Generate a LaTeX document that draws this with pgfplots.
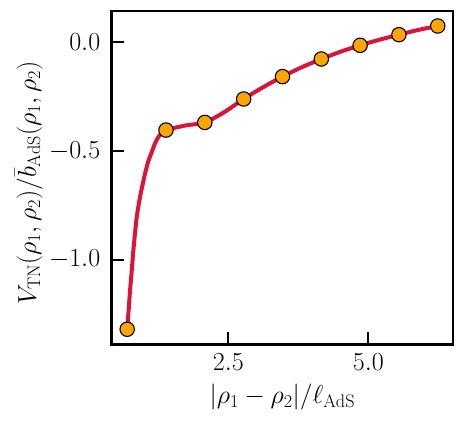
\RequirePackage{fix-cm}
\documentclass[border=0pt]{standalone}
\usepackage{pgfplots}
\pgfplotsset{compat=1.18}
\definecolor{crim}{RGB}{220,20,60}
\definecolor{orng}{RGB}{255,165,0}
\begin{document}
\begin{tikzpicture}
\begin{axis}[
    scale only axis,
    width=341pt, height=333pt,
    xmin=0.418, xmax=6.51, ymin=-1.39, ymax=0.144,
    xtick={2.5,5.0}, ytick={-1.0,-0.5,0.0},
    xticklabel style={yshift=-6pt, /pgf/number format/.cd,fixed,fixed zerofill,precision=1},
    yticklabel style={xshift=-8pt, /pgf/number format/.cd,fixed,fixed zerofill,precision=1},
    tick label style={font=\fontsize{26}{31}\selectfont},
    label style={font=\fontsize{26}{31}\selectfont},
    xtick pos=bottom, ytick pos=left,
    tick align=inside,
    major tick length=12.5pt,
    tick style={line width=2pt, black},
    axis line style={line width=2.6pt},
    xlabel={$|\rho_1-\rho_2|/\ell_{\mathrm{AdS}}$},
    ylabel={$V_{\mathrm{TN}}(\rho_1,\rho_2)/\bar{b}_{\mathrm{AdS}}(\rho_1,\rho_2)$},
    xlabel style={at={(rel axis cs:0.5,0)}, anchor=center, yshift=-53pt},
    ylabel style={at={(rel axis cs:0,0.5)}, anchor=center, yshift=83pt, xshift=-5.5pt},
]
    % fitted curve
    \addplot[crim, line width=4pt, smooth, tension=0.5] coordinates {
        (0.693,-1.321) (0.720,-1.230) (0.745,-1.141) (0.775,-1.050)
        (0.804,-0.957) (0.835,-0.875) (0.864,-0.804) (0.900,-0.745)
        (0.935,-0.696) (0.975,-0.648) (1.0125,-0.604) (1.070,-0.548)
        (1.140,-0.500) (1.190,-0.465) (1.250,-0.436) (1.320,-0.415)
        (1.386,-0.404) (1.732,-0.383) (2.079,-0.369) (2.424,-0.322)
        (2.773,-0.261) (3.113,-0.208) (3.466,-0.158) (3.810,-0.115)
        (4.159,-0.077) (4.507,-0.043) (4.852,-0.014) (5.200,0.012)
        (5.545,0.035) (5.893,0.057) (6.238,0.075)
    };
    % data points
    \addplot[only marks, mark=*, mark size=7.2pt,
             mark options={fill=orng, draw=black, line width=1.1pt}] coordinates {
        (0.693,-1.321) (1.386,-0.404) (2.079,-0.369) (2.773,-0.261)
        (3.466,-0.158) (4.159,-0.077) (4.852,-0.014) (5.545,0.035)
        (6.238,0.075)
    };
    \coordinate (bl) at (rel axis cs:0,0);
    \coordinate (tr) at (rel axis cs:1,1);
\end{axis}
\pgfresetboundingbox
\path ([shift={(-111.7pt,-80pt)}]bl) rectangle ([shift={(12pt,11pt)}]tr);
\end{tikzpicture}
\end{document}
